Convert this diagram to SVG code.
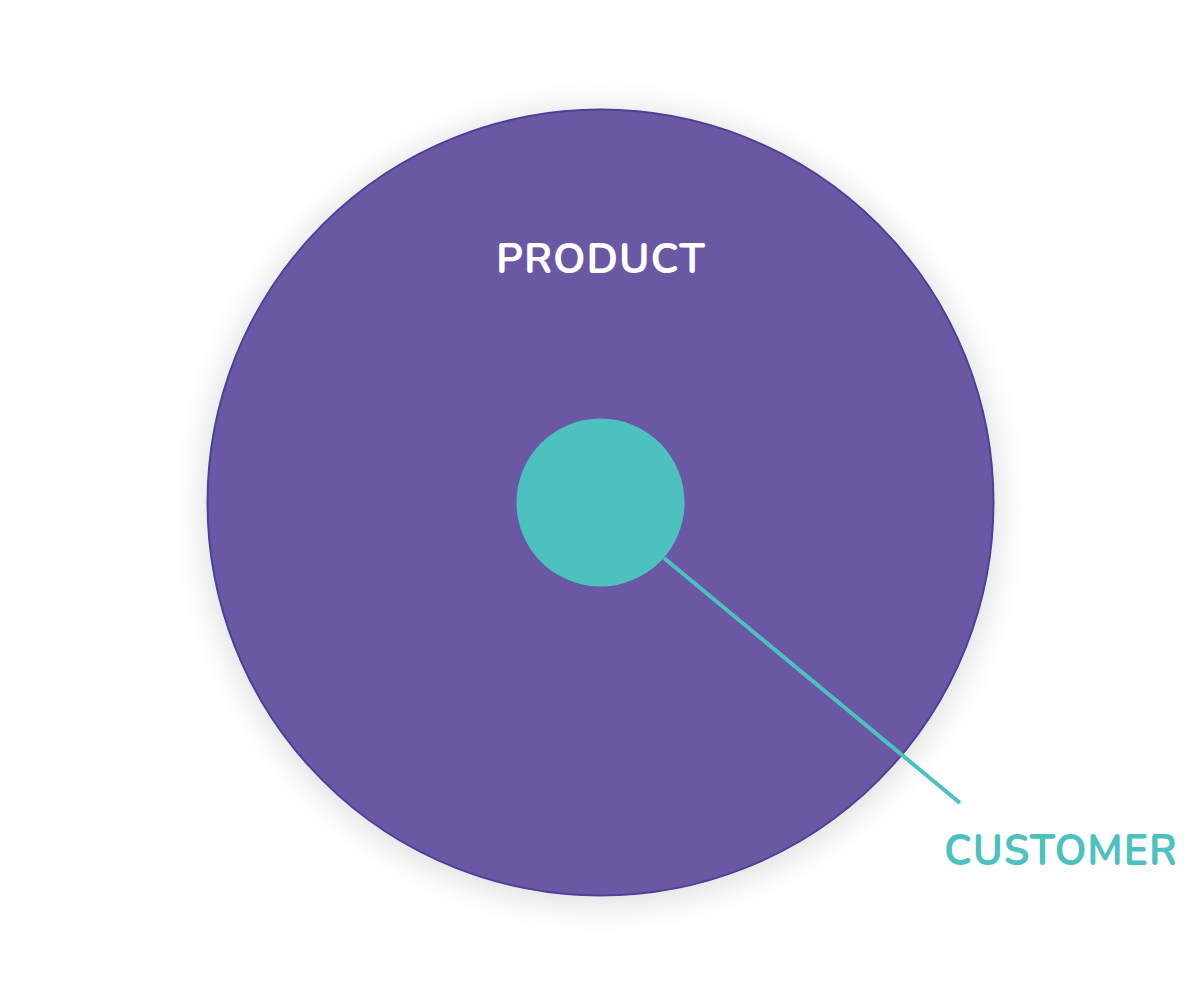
<svg xmlns="http://www.w3.org/2000/svg" width="1200" height="1005" viewBox="0 0 1200 1005">
<defs>
<filter id="shadow" x="-20%" y="-20%" width="140%" height="140%">
<feGaussianBlur in="SourceAlpha" stdDeviation="18"/>
<feOffset dx="0" dy="4"/>
<feComponentTransfer><feFuncA type="linear" slope="0.16"/></feComponentTransfer>
<feMerge><feMergeNode/><feMergeNode in="SourceGraphic"/></feMerge>
</filter>
<style>
.lbl{font-family:"Nunito","Open Sans","Liberation Sans",sans-serif;font-weight:700;letter-spacing:1px}
</style>
</defs>
<rect width="1200" height="1005" fill="#ffffff"/>
<g id="product">
<circle cx="600.5" cy="502.5" r="393" fill="#6A58A5" stroke="#4E3F98" stroke-width="2" filter="url(#shadow)"/>
<text class="lbl" x="601" y="273" font-size="41" fill="#ffffff" text-anchor="middle" textLength="210" lengthAdjust="spacingAndGlyphs">PRODUCT</text>
</g>
<g id="customer">
<circle cx="600.5" cy="502.5" r="84" fill="#4DC1BF"/>
<text class="lbl" x="1061" y="865" font-size="44" fill="#4DC1BF" text-anchor="middle" textLength="234" lengthAdjust="spacingAndGlyphs">CUSTOMER</text>
</g>
<g id="connectors">
<line x1="664" y1="558" x2="960" y2="803" stroke="#4DC1BF" stroke-width="4"/>
</g>
</svg>
